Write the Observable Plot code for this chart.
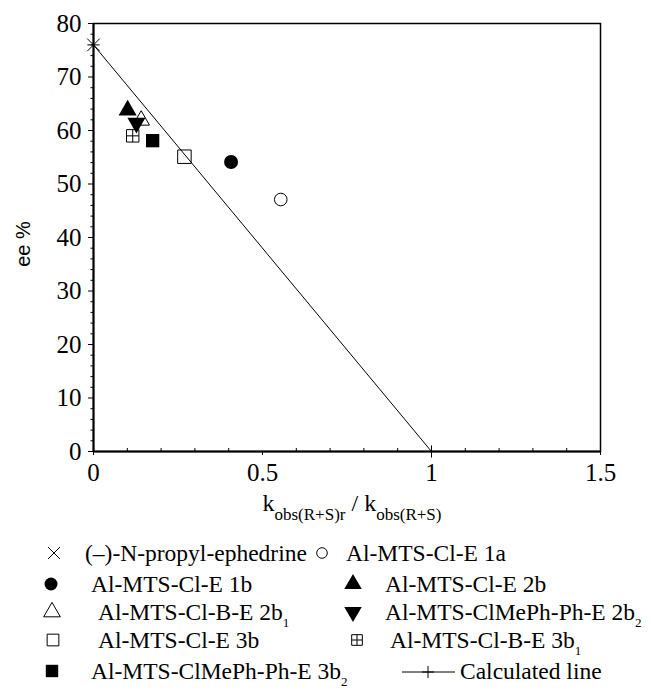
<!DOCTYPE html>
<html><head><meta charset="utf-8">
<script src="https://cdn.jsdelivr.net/npm/d3@7"></script>
<script src="https://cdn.jsdelivr.net/npm/@observablehq/plot@0.6"></script>
<style>
body{margin:0;background:#fff;width:651px;font-family:"Liberation Serif",serif;}
#chart svg,#legend svg{display:block}
#chart svg text,#legend svg text{font-family:"Liberation Serif",serif;}
#chart svg text.sans{font-family:"Liberation Sans",sans-serif;}
</style></head><body><div id="chart"></div><div id="legend"></div>
<script>
// ---- data ----
const names = ["(–)-N-propyl-ephedrine","Al-MTS-Cl-E 1a","Al-MTS-Cl-E 1b","Al-MTS-Cl-E 2b","Al-MTS-Cl-B-E 2b","Al-MTS-ClMePh-Ph-E 2b","Al-MTS-Cl-E 3b","Al-MTS-Cl-B-E 3b","Al-MTS-ClMePh-Ph-E 3b"];
const subs = ["","","","","1","2","","1","2"];
const ratio = [0, 0.554, 0.407, 0.101, 0.141, 0.127, 0.269, 0.116, 0.175];
const ee = [76, 47.1, 54.1, 63.8, 61.9, 61.4, 55.1, 59.0, 58.1];
const calcLabel = "Calculated line";
const calcX = [0, 1];
const calcY = [76, 0];
const xTicks = [0, 0.5, 1, 1.5];
const yTicks = [0, 10, 20, 30, 40, 50, 60, 70, 80];
const xMinor = d3.range(0, 16).map(d => d / 10).filter(d => !xTicks.includes(d));
const yMinor = d3.range(0, 81, 2).filter(d => d % 10 !== 0);

// ---- styles ----
const boxPlus = {draw(ctx, size){ const s = Math.sqrt(size)/2;
  ctx.moveTo(-s,-s); ctx.lineTo(s,-s); ctx.lineTo(s,s); ctx.lineTo(-s,s); ctx.closePath();
  ctx.moveTo(0,-s); ctx.lineTo(0,s); ctx.moveTo(-s,0); ctx.lineTo(s,0); }};
const styles = [
  {symbol:"times", fill:"none", stroke:"black", r:5.8, sw:1},
  {symbol:"circle", fill:"none", stroke:"black", r:6.3, sw:1},
  {symbol:"circle", fill:"black", stroke:"none", r:7.0, sw:1},
  {symbol:"triangle", fill:"black", stroke:"none", r:6.7, sw:1},
  {symbol:"triangle", fill:"none", stroke:"black", r:6.2, sw:1},
  {symbol:"triangle", fill:"black", stroke:"none", r:6.7, sw:1, rotate:180},
  {symbol:"square", fill:"none", stroke:"black", r:7.6, sw:1},
  {symbol:boxPlus, fill:"none", stroke:"black", r:7.0, sw:1},
  {symbol:"square", fill:"black", stroke:"none", r:7.5, sw:1}
];

const points = names.map((name, i) => ({name, x: ratio[i], y: ee[i]}));
const calc = calcX.map((x, i) => ({x, y: calcY[i]}));

const W = 651, H = 530;
const plot = Plot.plot({
  width: W, height: H,
  marginLeft: 93, marginRight: 51, marginTop: 23, marginBottom: 79,
  style: {fontFamily: "Liberation Serif", fontSize: "25px", color: "black", background: "white", overflow: "visible"},
  x: {domain: [0, 1.5]},
  y: {domain: [0, 80]},
  marks: [
    Plot.frame({stroke: "black", strokeWidth: 1.5}),
    Plot.axisX({ticks: xTicks, tickSize: 4, tickPadding: 8, tickFormat: d => String(d), label: null}),
    Plot.axisX({ticks: xMinor, tickSize: 3, dy: -3, text: null, label: null}),
    Plot.axisY({ticks: yTicks, tickSize: 5, tickPadding: 7, tickFormat: d => String(d), label: null}),
    Plot.axisY({ticks: yMinor, tickSize: 2.5, text: null, label: null}),
    Plot.ruleX([0], {stroke: "black", strokeWidth: 2}),
    Plot.ruleY([0], {stroke: "black", strokeWidth: 2}),
    Plot.line(calc, {x: "x", y: "y", stroke: "black", strokeWidth: 1}),
    Plot.dot(calc, {x: "x", y: "y", symbol: "plus", r: 4, stroke: "black", strokeWidth: 1}),
    ...points.map((p, i) => Plot.dot([p], {x: "x", y: "y", symbol: styles[i].symbol, r: styles[i].r,
      fill: styles[i].fill, stroke: styles[i].stroke, strokeWidth: styles[i].sw, rotate: styles[i].rotate || 0}))
  ]
});
document.getElementById("chart").append(plot);

const svg = d3.select(plot);
svg.append("text").attr("class", "sans").attr("transform", "translate(30,244) rotate(-90)")
  .attr("text-anchor", "middle").attr("font-size", 20).attr("fill", "black").text("ee %");
const xl = svg.append("text").attr("x", 352).attr("y", 511).attr("text-anchor", "middle")
  .attr("font-size", 24).attr("fill", "black");
xl.append("tspan").text("k");
xl.append("tspan").attr("dy", 9).attr("font-size", 17).text("obs(R+S)r");
xl.append("tspan").attr("dy", -9).text(" / k");
xl.append("tspan").attr("dy", 9).attr("font-size", 17).text("obs(R+S)");

// ---- legend ----
const LH = 692 - H;
const rowY = [23, 54, 82, 110, 141];
const symX = [[54, 322], [51, 353], [52, 353], [53, 357], [52, 428]];
const txtX = [[85, 346], [91, 385], [98, 385], [98, 390], [91, 460]];
const lsvg = d3.select("#legend").append("svg").attr("width", W).attr("height", LH)
  .attr("font-size", 23.5);
const legSize = [5.5, 5.3, 6.5, 6.5, 6.2, 6.5, 6.6, 6.0, 7.0];
names.forEach((n, i) => {
  const row = Math.floor(i / 2), col = i % 2;
  const sx = symX[row][col], sy = rowY[row];
  const st = styles[i];
  const sym = typeof st.symbol === "string" ? ({circle: d3.symbolCircle, triangle: d3.symbolTriangle, square: d3.symbolSquare, times: d3.symbolTimes})[st.symbol] : st.symbol;
  lsvg.append("path").attr("d", d3.symbol(sym, Math.PI * legSize[i] ** 2)())
    .attr("transform", `translate(${sx},${sy}) rotate(${st.rotate || 0})`)
    .attr("fill", st.fill).attr("stroke", st.stroke).attr("stroke-width", 1);
  const t = lsvg.append("text").attr("x", txtX[row][col]).attr("y", sy + 8).attr("fill", "black");
  t.append("tspan").text(n);
  if (subs[i]) t.append("tspan").attr("dy", 7).attr("font-size", 13).text(subs[i]);
});
// calculated line entry
{
  const sy = rowY[4];
  lsvg.append("line").attr("x1", 402).attr("x2", 455).attr("y1", sy + 1).attr("y2", sy + 1).attr("stroke", "black");
  lsvg.append("path").attr("d", d3.symbol(d3.symbolPlus, Math.PI * 16)())
    .attr("transform", `translate(428,${sy + 1})`).attr("fill", "none").attr("stroke", "black");
  lsvg.append("text").attr("x", txtX[4][1]).attr("y", sy + 8).attr("fill", "black").text(calcLabel);
}
</script></body></html>
